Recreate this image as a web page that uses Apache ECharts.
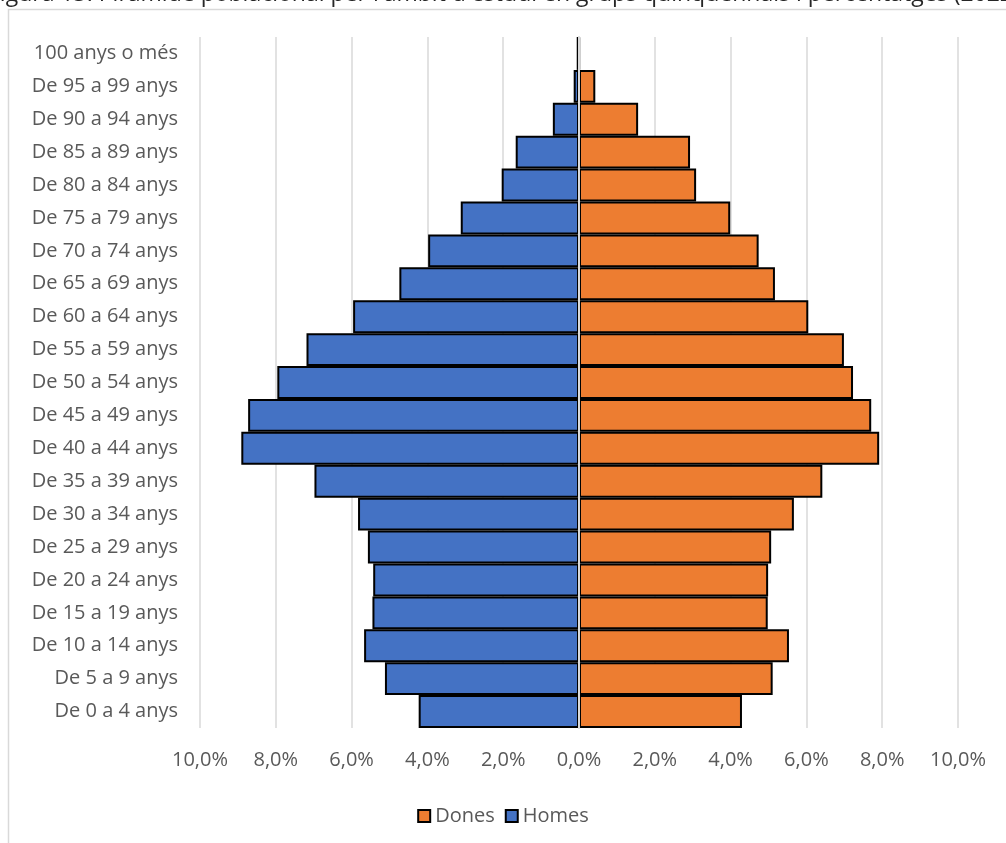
<!DOCTYPE html>
<html>
<head>
<meta charset="utf-8">
<script src="https://cdn.jsdelivr.net/npm/echarts@6/dist/echarts.min.js"></script>
<style>
  html, body { margin: 0; padding: 0; background: #ffffff; }
  #chart { width: 1006px; height: 843px; }
</style>
</head>
<body>
<div id="chart"></div>
<script>
// Age groups, youngest first (drawn bottom to top)
const ageGroups = [
  'De 0 a 4 anys', 'De 5 a 9 anys', 'De 10 a 14 anys', 'De 15 a 19 anys',
  'De 20 a 24 anys', 'De 25 a 29 anys', 'De 30 a 34 anys', 'De 35 a 39 anys',
  'De 40 a 44 anys', 'De 45 a 49 anys', 'De 50 a 54 anys', 'De 55 a 59 anys',
  'De 60 a 64 anys', 'De 65 a 69 anys', 'De 70 a 74 anys', 'De 75 a 79 anys',
  'De 80 a 84 anys', 'De 85 a 89 anys', 'De 90 a 94 anys', 'De 95 a 99 anys',
  '100 anys o més'
];

// Share of total population (%), same order as ageGroups
const homes = [
  4.23, 5.12, 5.67, 5.45, 5.43, 5.57, 5.83, 6.98, 8.91, 8.73, 7.96,
  7.19, 5.96, 4.74, 3.98, 3.12, 2.04, 1.67, 0.69, 0.14, 0.06
];
const dones = [
  4.30, 5.11, 5.54, 4.98, 4.99, 5.07, 5.67, 6.42, 7.92, 7.71, 7.23,
  6.99, 6.05, 5.17, 4.74, 3.99, 3.09, 2.93, 1.56, 0.43, 0.01
];

// Percentage scale shown on both sides of the centre
const axisMin = -10;
const axisMax = 10;
const axisStep = 2;

const titleText = "Figura 13. Piràmide poblacional per l'àmbit d'estudi en grups quinquennals i percentatges (2022)";

const fmtPct = v => Math.abs(v).toFixed(1).replace('.', ',') + '%';

const chart = echarts.init(document.getElementById('chart'));
chart.setOption({
  animation: false,
  textStyle: { fontFamily: 'Open Sans' },
  graphic: [
    {
      type: 'rect',
      shape: { x: 8.5, y: 9.5, width: 1020, height: 860 },
      style: { fill: 'none', stroke: '#d9d9d9', lineWidth: 1.5 },
      silent: true,
      z: -1
    },
    {
      type: 'text',
      x: -12,
      y: -6,
      style: {
        text: titleText,
        font: '23px "Open Sans"',
        fill: '#262626',
        verticalAlign: 'middle'
      },
      silent: true
    }
  ],
  legend: {
    data: ['Dones', 'Homes'],
    top: 801,
    left: 'center',
    icon: 'rect',
    itemWidth: 12,
    itemHeight: 12,
    itemGap: 10,
    textStyle: { fontSize: 20, color: '#595959', fontFamily: 'Open Sans' }
  },
  grid: { left: 200, right: 48, top: 37, bottom: 115 },
  xAxis: {
    type: 'value',
    min: axisMin,
    max: axisMax,
    interval: axisStep,
    axisLine: { show: false },
    axisTick: { show: false },
    splitLine: { show: true, lineStyle: { color: '#d9d9d9', width: 1.5 } },
    axisLabel: {
      formatter: fmtPct,
      fontSize: 20,
      color: '#595959',
      margin: 22,
      fontFamily: 'Open Sans'
    }
  },
  yAxis: [
    {
      type: 'category',
      data: ageGroups,
      axisLine: { show: false, onZero: false },
      axisTick: { show: false },
      axisLabel: { fontSize: 20, color: '#595959', margin: 22, fontFamily: 'Open Sans' }
    },
    {
      type: 'category',
      data: ageGroups,
      position: 'left',
      z: 10,
      axisLine: { show: true, onZero: true, lineStyle: { color: '#d9d9d9', width: 2 } },
      axisTick: { show: false },
      axisLabel: { show: false }
    }
  ],
  series: [
    {
      name: 'Homes',
      type: 'bar',
      stack: 'pyramid',
      yAxisIndex: 0,
      barCategoryGap: 0,
      data: homes.map(v => -v),
      itemStyle: { color: '#4472C4', borderColor: '#000000', borderWidth: 2 }
    },
    {
      name: 'Dones',
      type: 'bar',
      stack: 'pyramid',
      yAxisIndex: 0,
      barCategoryGap: 0,
      data: dones,
      itemStyle: { color: '#ED7D31', borderColor: '#000000', borderWidth: 2 }
    }
  ]
});
</script>
</body>
</html>
